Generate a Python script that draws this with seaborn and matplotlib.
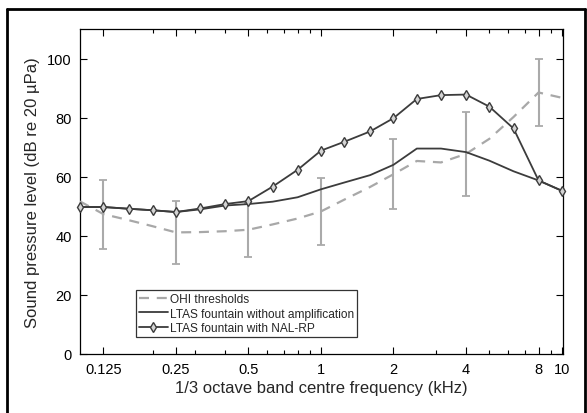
import numpy as np
import pandas as pd
import matplotlib
matplotlib.use("Agg")
import matplotlib.pyplot as plt
import seaborn as sns
from matplotlib.lines import Line2D
from matplotlib.ticker import FixedLocator, LogLocator, NullFormatter

# 1/3 octave band centre frequencies (kHz)
freqs = [0.1, 0.125, 0.16, 0.2, 0.25, 0.315, 0.4, 0.5, 0.63, 0.8, 1.0,
         1.25, 1.6, 2.0, 2.5, 3.15, 4.0, 5.0, 6.3, 8.0, 10.0]

# OHI thresholds (dashed grey)
ohi = [51.6, 47.3, 45.2, 43.2, 41.1, 41.2, 41.5, 42.0, 43.8, 45.8, 48.2,
       52.2, 56.5, 60.8, 65.3, 64.8, 67.7, 72.8, 80.2, 88.5, 86.7]

# LTAS fountain without amplification
ltas_plain = [49.7, 49.7, 49.1, 48.6, 48.0, 48.9, 50.2, 50.7, 51.5, 53.0, 55.7,
              58.0, 60.5, 64.0, 69.5, 69.5, 68.3, 65.4, 61.8, 58.7, 55.2]

# LTAS fountain with NAL-RP
ltas_nal = [49.7, 49.7, 49.1, 48.6, 48.0, 49.2, 50.7, 51.7, 56.6, 62.3, 68.8,
            71.8, 75.3, 79.8, 86.3, 87.6, 87.8, 83.7, 76.3, 58.7, 55.2]

# OHI error bars (octave frequencies)
err_freqs = [0.125, 0.25, 0.5, 1.0, 2.0, 4.0, 8.0]
err_mean = [47.3, 41.1, 42.0, 48.2, 60.8, 67.7, 88.5]
err_sd = [11.7, 10.7, 9.2, 11.3, 11.8, 14.3, 11.2]

xticks = [0.125, 0.25, 0.5, 1, 2, 4, 8, 10]
xticklabels = ["0.125", "0.25", "0.5", "1", "2", "4", "8", "10"]
yticks = [0, 20, 40, 60, 80, 100]

sns.set_style("ticks")
plt.rcParams['font.family'] = ['Liberation Sans', 'DejaVu Sans']

fig = plt.figure(figsize=(5.87, 4.14), dpi=100)
ax = fig.add_axes([0.1363, 0.1432, 0.959 - 0.1363, 0.9275 - 0.1432])

df = pd.DataFrame({"f": freqs, "ohi": ohi, "plain": ltas_plain, "nal": ltas_nal})

ax.errorbar(err_freqs, err_mean, yerr=err_sd, fmt="none", ecolor="#aaaaaa",
            elinewidth=1.5, capsize=3, capthick=1.3, zorder=2)
sns.lineplot(data=df, x="f", y="ohi", ax=ax, color="#a8a8a8", lw=1.6,
             zorder=3, label="OHI thresholds")
ax.lines[-1].set_dashes((4.5, 3.5))
sns.lineplot(data=df, x="f", y="plain", ax=ax, color="#3c3c3c", lw=1.3,
             zorder=4, label="LTAS fountain without amplification")
sns.lineplot(data=df, x="f", y="nal", ax=ax, color="#3c3c3c", lw=1.3,
             marker="d", markersize=4.6, markerfacecolor="#d4d4d4",
             markeredgecolor="#3c3c3c", markeredgewidth=1.0,
             zorder=5, label="LTAS fountain with NAL-RP", clip_on=False)

ax.set_xscale("log")
ax.set_xlim(0.1, 10.1)
ax.set_ylim(0, 110)
ax.xaxis.set_major_locator(FixedLocator(xticks))
ax.set_xticklabels(xticklabels)
ax.xaxis.set_minor_locator(LogLocator(base=10, subs=np.arange(2, 10)))
ax.xaxis.set_minor_formatter(NullFormatter())
ax.set_yticks(yticks)
ax.tick_params(which="both", direction="in", top=True, right=True,
               labelsize=10.5, colors="black", width=0.8)
ax.tick_params(which="major", length=5, pad=6)
ax.tick_params(which="minor", length=3)
for s in ax.spines.values():
    s.set_linewidth(0.9)
    s.set_color("black")

ax.set_xlabel("1/3 octave band centre frequency (kHz)", fontsize=12, labelpad=3)
ax.set_ylabel("Sound pressure level (dB re 20 \u00b5Pa)", fontsize=12, labelpad=5)

leg = ax.legend(loc="lower left", bbox_to_anchor=(0.115, 0.05), fontsize=8.6,
                frameon=True, fancybox=False, edgecolor="black",
                handlelength=2.4, borderpad=0.3, labelspacing=0.2,
                handletextpad=0.15, borderaxespad=0)
leg.get_frame().set_linewidth(0.9)

# outer frame
for xs, ys in [((7/587, 7/587), (0, 1 - 10/414)),
               ((7/587, 585/587), (1 - 10/414, 1 - 10/414)),
               ((585/587, 585/587), (0, 1 - 10/414))]:
    fig.add_artist(Line2D(xs, ys, color="black", lw=2, transform=fig.transFigure))

fig.savefig("out.png", dpi=100)
